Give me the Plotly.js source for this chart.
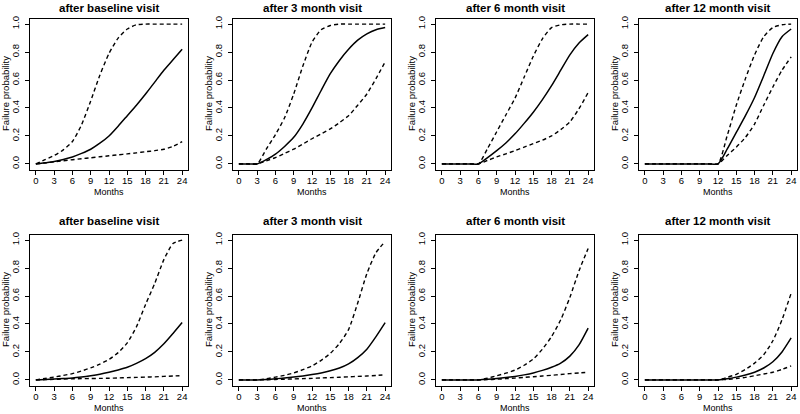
<!DOCTYPE html>
<html>
<head>
<meta charset="utf-8">
<script src="https://cdn.plot.ly/plotly-3.0.1.min.js"></script>
<style>html,body{margin:0;padding:0;background:#fff;}#chart{width:800px;height:414px;}</style>
</head>
<body>
<div id="chart"></div>
<script>
// Shared month grid
var MONTHS = [0,1.5,3,4.5,6,7.5,9,10.5,12,13.5,15,16.5,18,19.5,21,22.5,24];
var X_TICKS = [0,3,6,9,12,15,18,21,24];
var Y_TICKS = [0,0.2,0.4,0.6,0.8,1.0];
var Y_TICK_TEXT = ['0.0','0.2','0.4','0.6','0.8','1.0'];
var PANEL_TITLES = ['after baseline visit','after 3 month visit','after 6 month visit','after 12 month visit',
                    'after baseline visit','after 3 month visit','after 6 month visit','after 12 month visit'];
var X_TITLE = 'Months';
var Y_TITLE = 'Failure probability';

// Top row
var p1_est   = [0,0.008,0.017,0.032,0.05,0.075,0.105,0.148,0.2,0.27,0.345,0.42,0.5,0.585,0.67,0.745,0.82];
var p1_upper = [0,0.03,0.06,0.1,0.16,0.28,0.45,0.635,0.79,0.9,0.965,0.995,1.0,1.0,1.0,1.0,1.0];
var p1_lower = [0,0.007,0.015,0.022,0.03,0.037,0.044,0.051,0.058,0.065,0.072,0.079,0.087,0.095,0.105,0.125,0.16];

var p2_est   = [0,0,0,0.03,0.07,0.125,0.19,0.285,0.4,0.525,0.645,0.74,0.82,0.885,0.93,0.96,0.975];
var p2_upper = [0,0,0,0.105,0.21,0.33,0.5,0.7,0.87,0.96,0.99,1.0,1.0,1.0,1.0,1.0,1.0];
var p2_lower = [0,0,0,0.022,0.045,0.075,0.105,0.142,0.18,0.215,0.25,0.295,0.345,0.42,0.5,0.61,0.73];

var p3_est   = [0,0,0,0,0,0.045,0.095,0.15,0.215,0.29,0.37,0.46,0.56,0.67,0.78,0.865,0.925];
var p3_upper = [0,0,0,0,0,0.11,0.23,0.35,0.47,0.62,0.77,0.895,0.975,0.995,1.0,1.0,1.0];
var p3_lower = [0,0,0,0,0,0.025,0.05,0.072,0.095,0.12,0.145,0.17,0.2,0.245,0.3,0.395,0.51];

var p4_est   = [0,0,0,0,0,0,0,0,0,0.105,0.225,0.345,0.475,0.63,0.79,0.91,0.965];
var p4_upper = [0,0,0,0,0,0,0,0,0,0.2,0.42,0.61,0.78,0.91,0.975,0.995,1.0];
var p4_lower = [0,0,0,0,0,0,0,0,0,0.06,0.12,0.19,0.285,0.42,0.55,0.67,0.765];

// Bottom row
var p5_est   = [0,0.003,0.006,0.01,0.014,0.021,0.03,0.041,0.055,0.071,0.09,0.118,0.152,0.197,0.258,0.332,0.41];
var p5_upper = [0,0.01,0.02,0.032,0.045,0.064,0.086,0.113,0.146,0.195,0.265,0.38,0.54,0.69,0.86,0.975,1.0];
var p5_lower = [0,0.002,0.004,0.006,0.008,0.009,0.01,0.011,0.012,0.014,0.016,0.018,0.02,0.022,0.025,0.028,0.03];

var p6_est   = [0,0,0,0.003,0.008,0.013,0.02,0.028,0.038,0.05,0.065,0.085,0.115,0.16,0.22,0.31,0.41];
var p6_upper = [0,0,0,0.008,0.02,0.033,0.05,0.073,0.1,0.14,0.19,0.26,0.36,0.55,0.76,0.91,0.99];
var p6_lower = [0,0,0,0.001,0.003,0.005,0.007,0.009,0.011,0.014,0.016,0.019,0.022,0.025,0.028,0.032,0.036];

var p7_est   = [0,0,0,0,0,0.004,0.01,0.017,0.025,0.036,0.05,0.068,0.09,0.12,0.17,0.25,0.37];
var p7_upper = [0,0,0,0,0,0.012,0.03,0.048,0.07,0.105,0.15,0.22,0.31,0.43,0.59,0.78,0.94];
var p7_lower = [0,0,0,0,0,0.002,0.005,0.009,0.013,0.018,0.023,0.028,0.033,0.039,0.045,0.05,0.055];

var p8_est   = [0,0,0,0,0,0,0,0,0,0.008,0.02,0.035,0.055,0.085,0.13,0.2,0.3];
var p8_upper = [0,0,0,0,0,0,0,0,0,0.018,0.04,0.075,0.12,0.18,0.28,0.43,0.62];
var p8_lower = [0,0,0,0,0,0,0,0,0,0.004,0.01,0.018,0.03,0.042,0.055,0.075,0.1];

var PANELS = [
  [p1_est,p1_upper,p1_lower],[p2_est,p2_upper,p2_lower],[p3_est,p3_upper,p3_lower],[p4_est,p4_upper,p4_lower],
  [p5_est,p5_upper,p5_lower],[p6_est,p6_upper,p6_lower],[p7_est,p7_upper,p7_lower],[p8_est,p8_upper,p8_lower]
];

// Layout geometry (pixels)
var W = 800, H = 414;
var boxLeft = [30, 233, 436, 639];
var boxW = 158;
var rowTop = [18.5, 234.5];
var boxH = 151;
var titleY = [8, 221];
var FONT = 'Liberation Sans, Arial, sans-serif';

var data = [];
var layout = {
  width: W, height: H,
  margin: {l:0, r:0, t:0, b:0},
  paper_bgcolor: '#fff', plot_bgcolor: '#fff',
  showlegend: false,
  annotations: []
};

for (var i = 0; i < 8; i++) {
  var row = Math.floor(i / 4), col = i % 4;
  var n = i + 1;
  var xa = 'x' + (n === 1 ? '' : n), ya = 'y' + (n === 1 ? '' : n);
  var xk = 'xaxis' + (n === 1 ? '' : n), yk = 'yaxis' + (n === 1 ? '' : n);
  var L = boxLeft[col], T = rowTop[row];
  layout[xk] = {
    domain: [L / W, (L + boxW) / W], anchor: ya,
    range: [-0.96, 24.96], tickvals: X_TICKS, ticktext: X_TICKS.map(String),
    ticks: 'outside', ticklen: 4, tickwidth: 1, tickcolor: '#000',
    showline: true, mirror: true, linecolor: '#000', linewidth: 1,
    showgrid: false, zeroline: false, fixedrange: true, ticklabelstandoff: -2,
    tickfont: {family: FONT, size: 9.5, color: '#000'}
  };
  layout[yk] = {
    domain: [1 - (T + boxH) / H, 1 - T / H], anchor: xa,
    range: [-0.04, 1.04], tickvals: Y_TICKS, ticktext: Y_TICK_TEXT, tickangle: -90,
    ticks: 'outside', ticklen: 4, tickwidth: 1, tickcolor: '#000',
    showline: true, mirror: true, linecolor: '#000', linewidth: 1,
    showgrid: false, zeroline: false, fixedrange: true, ticklabelstandoff: 2,
    tickfont: {family: FONT, size: 9.5, color: '#000'}
  };
  var s = PANELS[i];
  data.push({x: MONTHS, y: s[1], xaxis: xa, yaxis: ya, mode: 'lines', hoverinfo: 'skip',
    line: {color: '#000', width: 1.4, dash: '4px,3px', shape: 'spline', smoothing: 0.6}});
  data.push({x: MONTHS, y: s[2], xaxis: xa, yaxis: ya, mode: 'lines', hoverinfo: 'skip',
    line: {color: '#000', width: 1.4, dash: '4px,3px', shape: 'spline', smoothing: 0.6}});
  data.push({x: MONTHS, y: s[0], xaxis: xa, yaxis: ya, mode: 'lines', hoverinfo: 'skip',
    line: {color: '#000', width: 1.5, shape: 'spline', smoothing: 0.6}});

  layout.annotations.push({text: '<b>' + PANEL_TITLES[i] + '</b>', xref: 'paper', yref: 'paper',
    x: (L + boxW / 2) / W, y: 1 - titleY[row] / H, xanchor: 'center', yanchor: 'middle',
    showarrow: false, font: {family: FONT, size: 11.5, color: '#000'}});
  layout.annotations.push({text: X_TITLE, xref: 'paper', yref: 'paper',
    x: (L + boxW / 2) / W, y: 1 - (T + boxH + 22.5) / H, xanchor: 'center', yanchor: 'middle',
    showarrow: false, font: {family: FONT, size: 9, color: '#000'}});
  layout.annotations.push({text: Y_TITLE, xref: 'paper', yref: 'paper', textangle: -90,
    x: (L - 25) / W, y: 1 - (T + boxH / 2) / H, xanchor: 'center', yanchor: 'middle',
    showarrow: false, font: {family: FONT, size: 9.5, color: '#000'}});
}

Plotly.newPlot('chart', data, layout, {staticPlot: true, displayModeBar: false});
</script>
</body>
</html>
